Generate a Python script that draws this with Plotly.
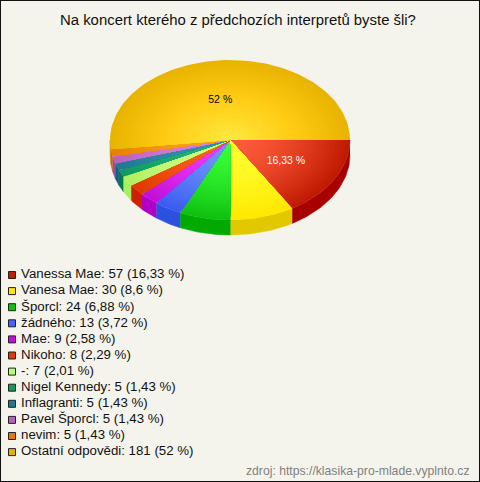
import math
import plotly.graph_objects as go

title = "Na koncert kterého z předchozích interpretů byste šli?"
source = "zdroj: https://klasika-pro-mlade.vyplnto.cz"
names = ["Vanessa Mae", "Vanesa Mae", "Šporcl", "žádného", "Mae", "Nikoho", "-",
         "Nigel Kennedy", "Inflagranti", "Pavel Šporcl", "nevim", "Ostatní odpovědi"]
values = [57, 30, 24, 13, 9, 8, 7, 5, 5, 5, 5, 181]
percents = ["16,33", "8,6", "6,88", "3,72", "2,58", "2,29", "2,01", "1,43", "1,43", "1,43", "1,43", "52"]
inner = ["#ff5c3c", "#ffff30", "#38ff38", "#7096ff", "#f03cff", "#ff6420", "#d4ff88",
         "#20b878", "#3494b4", "#dc84dc", "#ffa424", "#ffea40"]
outer = ["#c01a00", "#ffe800", "#10c010", "#3c5cf0", "#c010d8", "#e03800", "#b0f060",
         "#109860", "#207890", "#b860c0", "#e88000", "#e8b400"]
middle = [None] * 11 + ["#ffcb14"]
side = ["#a80000", "#e2c800", "#00aa00", "#2c50e0", "#b000c8", "#cc2000", "#a8f060",
        "#007a50", "#10607a", "#9a4ea0", "#d06800", "#c89000"]
legend_colors = ["#bb2200", "#ffe800", "#10c010", "#4466ff", "#c010d8", "#e03800", "#b8ff70",
                 "#109860", "#207890", "#b860c0", "#e87800", "#e6b000"]
show_label = [True, False, False, False, False, False, False, False, False, False, False, True]
label_color = ["white"] * 11 + ["black"]

CX, CY, RX, RY, DEPTH = 230, 140, 120, 80, 15
RINGS = 32


def rgb(h):
    return [int(h[i:i + 2], 16) for i in (1, 3, 5)]


def mix(a, b, t):
    a, b = rgb(a), rgb(b)
    return "rgb(%d,%d,%d)" % tuple(round(a[i] + (b[i] - a[i]) * t) for i in range(3))


def shade(i, f):
    if middle[i] is None:
        return mix(inner[i], outer[i], f ** 1.6)
    if f < 0.55:
        return mix(inner[i], middle[i], f / 0.55)
    return mix(middle[i], outer[i], (f - 0.55) / 0.45)


def arc(a0, a1, n=None):
    n = n or max(3, int(abs(a1 - a0) * 40) + 2)
    return [a0 + (a1 - a0) * i / (n - 1) for i in range(n)]


fig = go.Figure()
total = sum(values)
angles = [0]
for v in values:
    angles.append(angles[-1] + v / total * 2 * math.pi)

# side wall: only the part facing the viewer
for i, v in enumerate(values):
    a0, a1 = angles[i], min(angles[i + 1], math.pi)
    if a0 >= math.pi:
        continue
    ts = arc(a0, a1)
    xs = [CX + RX * math.cos(t) for t in ts]
    ys = [CY + RY * math.sin(t) for t in ts]
    fig.add_trace(go.Scatter(x=xs + xs[::-1], y=ys + [y + DEPTH for y in ys[::-1]],
                             mode="lines", fill="toself", fillcolor=side[i],
                             line=dict(width=0.5, color=side[i]), hoverinfo="skip"))

# top surface: each wedge painted from rim to centre for a radial shading
for i, v in enumerate(values):
    ts = arc(angles[i], angles[i + 1])
    for k in range(RINGS, 0, -1):
        f = k / RINGS
        col = shade(i, f)
        xs = [CX] + [CX + f * RX * math.cos(t) for t in ts] + [CX]
        ys = [CY] + [CY + f * RY * math.sin(t) for t in ts] + [CY]
        fig.add_trace(go.Scatter(x=xs, y=ys, mode="lines", fill="toself", fillcolor=col,
                                 line=dict(width=0, color=col), hoverinfo="skip"))

# slice labels
for i, v in enumerate(values):
    if not show_label[i]:
        continue
    mid = (angles[i] + angles[i + 1]) / 2
    nudge_x, nudge_y = (-6, 3) if i == 11 else (0, 0)
    fig.add_trace(go.Scatter(x=[CX + 0.535 * RX * math.cos(mid) + nudge_x],
                             y=[CY + 0.535 * RY * math.sin(mid) + nudge_y],
                             mode="text", text=[percents[i] + " %"], textposition="middle center",
                             textfont=dict(family="Liberation Sans", size=10.5, color=label_color[i]),
                             hoverinfo="skip"))

# legend
for i, name in enumerate(names):
    y = 275 + 16.1 * i
    fig.add_trace(go.Scatter(x=[12], y=[y], mode="markers+text",
                             marker=dict(symbol="square", size=7, color=legend_colors[i],
                                         line=dict(width=1, color="#222222")),
                             text=[" %s: %d (%s %%)" % (name, values[i], percents[i])],
                             textposition="middle right",
                             textfont=dict(family="Liberation Sans", size=13.25, color="#111111"),
                             hoverinfo="skip"))

fig.update_layout(
    width=480, height=482, margin=dict(l=0, r=0, t=0, b=0), autosize=False,
    paper_bgcolor="#f5f4ec", plot_bgcolor="#f5f4ec", showlegend=False,
    xaxis=dict(range=[0, 480], visible=False, fixedrange=True),
    yaxis=dict(range=[482, 0], visible=False, fixedrange=True),
    shapes=[dict(type="rect", xref="paper", yref="paper", x0=0, y0=0, x1=1, y1=1,
                 line=dict(color="#111111", width=2))],
    annotations=[
        dict(x=472, y=471, xref="x", yref="y", text=source, showarrow=False, xanchor="right",
             font=dict(family="Liberation Sans", size=12.2, color="#808080")),
        dict(x=237.5, y=20, xref="x", yref="y", text=title, showarrow=False,
             font=dict(family="Liberation Sans", size=14.9, color="#111111")),
    ],
)
fig.write_html("out.html", config=dict(displayModeBar=False),
               post_script="document.body.style.margin='0';document.body.style.overflow='hidden';")
